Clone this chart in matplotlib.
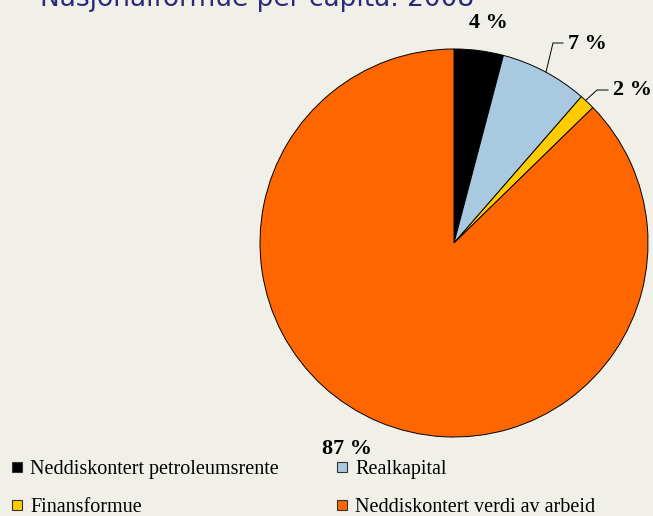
import matplotlib.pyplot as plt
from matplotlib.lines import Line2D

# andeler (prosent) lest av figuren
kategorier = ['Neddiskontert petroleumsrente', 'Realkapital',
              'Finansformue', 'Neddiskontert verdi av arbeid']
andeler = [4.1, 7.3, 1.3, 87.3]
etiketter = ['4 %', '7 %', '2 %', '87 %']
farger = ['#000000', '#a8c9e0', '#ffcc00', '#ff6600']

bg = '#f0efe8'
W, H = 653, 516

fig = plt.figure(figsize=(W / 100, H / 100), dpi=100, facecolor=bg)
ax = fig.add_axes([0, 0, 1, 1])

wedges, _ = ax.pie(andeler, colors=farger, startangle=90, counterclock=False,
                   center=(454, H - 243), radius=194, frame=True,
                   wedgeprops=dict(edgecolor='black', linewidth=0.7))
ax.set_xlim(0, W)
ax.set_ylim(0, H)
ax.axis('off')

lab_font = dict(family='Liberation Serif', fontsize=16, fontweight='bold')

# 4 % over det svarte stykket
ax.text(488, H - 23, etiketter[0], ha='center', va='center', **lab_font)
# 7 % med strek
ax.plot([546, 553, 563], [H - 72, H - 43, H - 43], color='black', lw=0.7)
ax.text(568, H - 44, etiketter[1], ha='left', va='center', **lab_font)
# 2 % med strek
ax.plot([586, 597, 608], [H - 100, H - 90, H - 90], color='black', lw=0.7)
ax.text(613, H - 90, etiketter[2], ha='left', va='center', **lab_font)
# 87 % under
ax.text(347, H - 449, etiketter[3], ha='center', va='center', **lab_font)

# tittel (delvis utenfor bildet)
fig.text(40 / W, 1 - 6 / H, 'Nasjonalformue per capita. 2008', ha='left',
         va='baseline', fontsize=19, color='#2b2a7a', family='DejaVu Sans')

# legend fylles kolonnevis, så rekkefølgen byttes for å få rader
orden = [0, 2, 1, 3]
handles = [Line2D([], [], linestyle='none', marker='s', markersize=7.2,
                  markerfacecolor=farger[i], markeredgecolor='#333333',
                  markeredgewidth=0.8) for i in orden]
labels = [kategorier[i] for i in orden]
leg = fig.legend(handles, labels, ncols=2, loc='upper left',
                 bbox_to_anchor=(10 / W, 1 - 460 / H), frameon=False,
                 borderpad=0, borderaxespad=0,
                 prop=dict(family='Liberation Serif', size=14.5),
                 handlelength=0.7, handletextpad=0.3,
                 columnspacing=2.8, labelspacing=0.95)

fig.savefig('out.png', dpi=100, facecolor=bg)
